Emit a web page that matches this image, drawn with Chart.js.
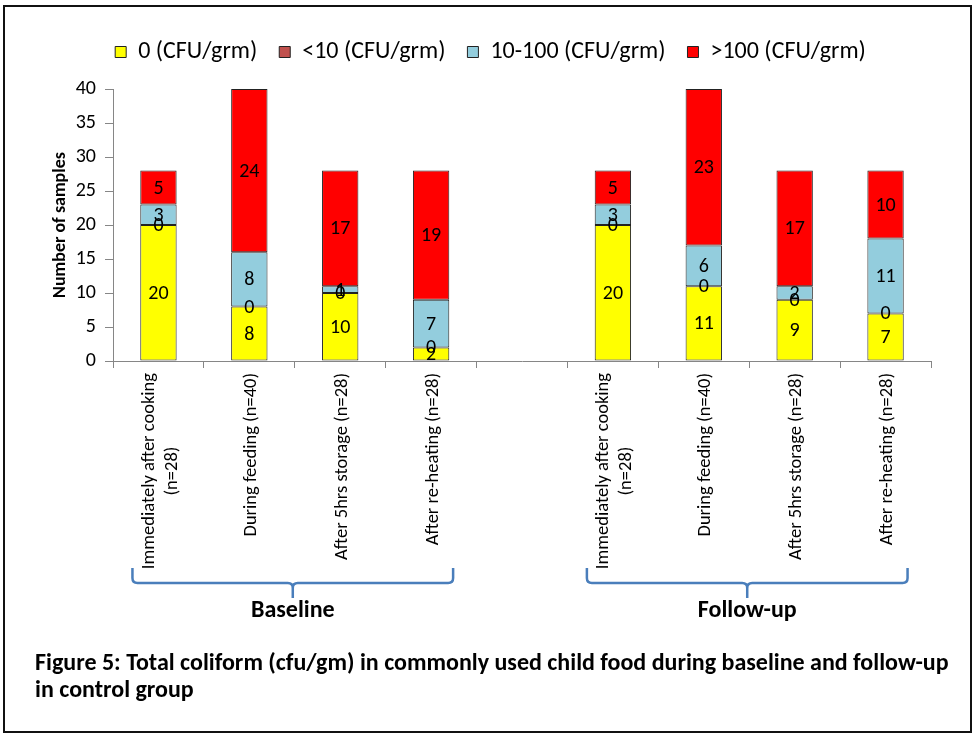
<!DOCTYPE html>
<html>
<head>
<meta charset="utf-8">
<script src="https://cdn.jsdelivr.net/npm/chart.js@4.4.1/dist/chart.umd.min.js"></script>
<style>
    body { margin: 0; background: #fff; }
    #wrap { position: relative; width: 974px; height: 733px; }
    #frame { position: absolute; left: 3px; top: 5px; width: 965px; height: 724px; border: 2px solid #111; pointer-events: none; }
    canvas { position: absolute; left: 0; top: 0; }
</style>
</head>
<body>
<div id="wrap">
    <canvas id="barChart" width="974" height="733"></canvas>
    <div id="frame"></div>
</div>
<script>
const categories = [
    ['Immediately after cooking', '(n=28)'],
    ['During feeding (n=40)'],
    ['After 5hrs storage (n=28)'],
    ['After re-heating (n=28)'],
    [''],
    ['Immediately after cooking', '(n=28)'],
    ['During feeding (n=40)'],
    ['After 5hrs storage (n=28)'],
    ['After re-heating (n=28)']
];
const seriesNames = ['0 (CFU/grm)', '<10 (CFU/grm)', '10-100 (CFU/grm)', '>100 (CFU/grm)'];
const zeroCfu    = [20, 8, 10, 2, null, 20, 11, 9, 7];
const below10    = [0, 0, 0, 0, null, 0, 0, 0, 0];
const cfu10to100 = [3, 8, 1, 7, null, 3, 6, 2, 11];
const above100   = [5, 24, 17, 19, null, 5, 23, 17, 10];
const seriesColors = ['#FFFF00', '#C0504D', '#93CDDD', '#FF0000'];
const groupNames = ['Baseline', 'Follow-up'];
const groupFirst = [0, 5];
const groupLast = [3, 8];
const yTicks = { min: 0, max: 40, step: 5 };
const caption = [
    'Figure 5: Total coliform (cfu/gm) in commonly used child food during baseline and follow-up',
    'in control group'
];

const FONT = 'Carlito, Lato, sans-serif';

const segmentLabels = {
    id: 'segmentLabels',
    afterDatasetsDraw(chart) {
        const ctx = chart.ctx;
        ctx.save();
        ctx.font = '20px ' + FONT;
        ctx.fillStyle = '#000';
        ctx.textAlign = 'center';
        ctx.textBaseline = 'middle';
        chart.data.datasets.forEach((ds, di) => {
            chart.getDatasetMeta(di).data.forEach((bar, i) => {
                const v = ds.data[i];
                if (v === null || v === undefined) return;
                ctx.fillText(String(v), bar.x, (bar.y + bar.base) / 2 + 1);
            });
        });
        ctx.restore();
    }
};

const axisDecor = {
    id: 'axisDecor',
    afterDraw(chart) {
        const ctx = chart.ctx;
        const x = chart.scales.x;
        ctx.save();

        // rotated category labels, lines centred on each other
        ctx.font = '18.5px ' + FONT;
        ctx.fillStyle = '#000';
        ctx.textAlign = 'center';
        ctx.textBaseline = 'middle';
        const lh = 23;
        categories.forEach((lines, i) => {
            const px = x.getPixelForValue(i);
            const maxW = Math.max(...lines.map(l => ctx.measureText(l).width));
            ctx.save();
            ctx.translate(px + 2, x.top + 12);
            ctx.rotate(-Math.PI / 2);
            lines.forEach((l, j) => {
                ctx.fillText(l, -maxW / 2, (j - (lines.length - 1) / 2) * lh);
            });
            ctx.restore();
        });

        // braces under each group
        ctx.strokeStyle = '#4A7EBB';
        ctx.lineWidth = 2.5;
        const top = 568, mid = 583, tip = 598, r = 5;
        groupNames.forEach((name, g) => {
            const x0 = x.getPixelForValue(groupFirst[g]) - 26;
            const x1 = x.getPixelForValue(groupLast[g]) + 22;
            const xc = (x0 + x1) / 2;
            ctx.beginPath();
            ctx.moveTo(x0, top);
            ctx.lineTo(x0, mid - r);
            ctx.quadraticCurveTo(x0, mid, x0 + r, mid);
            ctx.lineTo(xc - r, mid);
            ctx.quadraticCurveTo(xc, mid, xc, mid + r);
            ctx.lineTo(xc, tip);
            ctx.moveTo(xc, mid + r);
            ctx.quadraticCurveTo(xc, mid, xc + r, mid);
            ctx.lineTo(x1 - r, mid);
            ctx.quadraticCurveTo(x1, mid, x1, mid - r);
            ctx.lineTo(x1, top);
            ctx.stroke();

            ctx.font = 'bold 24px ' + FONT;
            ctx.fillStyle = '#000';
            ctx.textAlign = 'center';
            ctx.fillText(name, xc, 611);
        });

        // figure caption
        ctx.font = 'bold 24px ' + FONT;
        ctx.textAlign = 'left';
        ctx.fillText(caption[0], 35, 664);
        ctx.fillText(caption[1], 35, 691);
        ctx.restore();
    }
};

const legendHeight = {
    id: 'legendHeight',
    beforeInit(chart) {
        const fit = chart.legend.fit;
        chart.legend.fit = function () {
            fit.call(this);
            this.height = 71;
        };
    }
};

function buildChart() {
    const ctx = document.getElementById('barChart').getContext('2d');
    const values = [zeroCfu, below10, cfu10to100, above100];

    new Chart(ctx, {
        type: 'bar',
        data: {
            labels: categories,
            datasets: seriesNames.map((name, i) => ({
                label: name,
                data: values[i],
                backgroundColor: seriesColors[i],
                borderColor: '#222',
                borderWidth: 1,
                borderSkipped: false,
                barPercentage: 0.4,
                categoryPercentage: 1
            }))
        },
        options: {
            responsive: false,
            animation: false,
            layout: { padding: { top: 18, left: 50, right: 43, bottom: 0 } },
            plugins: {
                legend: {
                    position: 'top',
                    labels: {
                        color: '#000',
                        font: { family: FONT, size: 24 },
                        boxWidth: 11,
                        boxHeight: 11,
                        padding: 22
                    }
                },
                title: { display: false },
                tooltip: { enabled: false }
            },
            scales: {
                x: {
                    stacked: true,
                    grid: { drawOnChartArea: false, drawTicks: true, tickLength: 7, color: '#868686', offset: true },
                    border: { color: '#868686' },
                    ticks: { display: false },
                    afterFit(scale) { scale.height = 372; }
                },
                y: {
                    stacked: true,
                    min: yTicks.min,
                    max: yTicks.max,
                    grid: { drawOnChartArea: false, drawTicks: true, tickLength: 8, color: '#868686' },
                    border: { color: '#868686' },
                    ticks: {
                        stepSize: yTicks.step,
                        color: '#000',
                        padding: 9,
                        font: { family: FONT, size: 20 }
                    },
                    title: {
                        display: true,
                        text: 'Number of samples',
                        color: '#000',
                        font: { family: FONT, size: 18, weight: 'bold' },
                        padding: 0
                    },
                    afterFit(scale) { scale.width = 63; }
                }
            }
        },
        plugins: [legendHeight, segmentLabels, axisDecor]
    });
}

buildChart();
</script>
</body>
</html>
